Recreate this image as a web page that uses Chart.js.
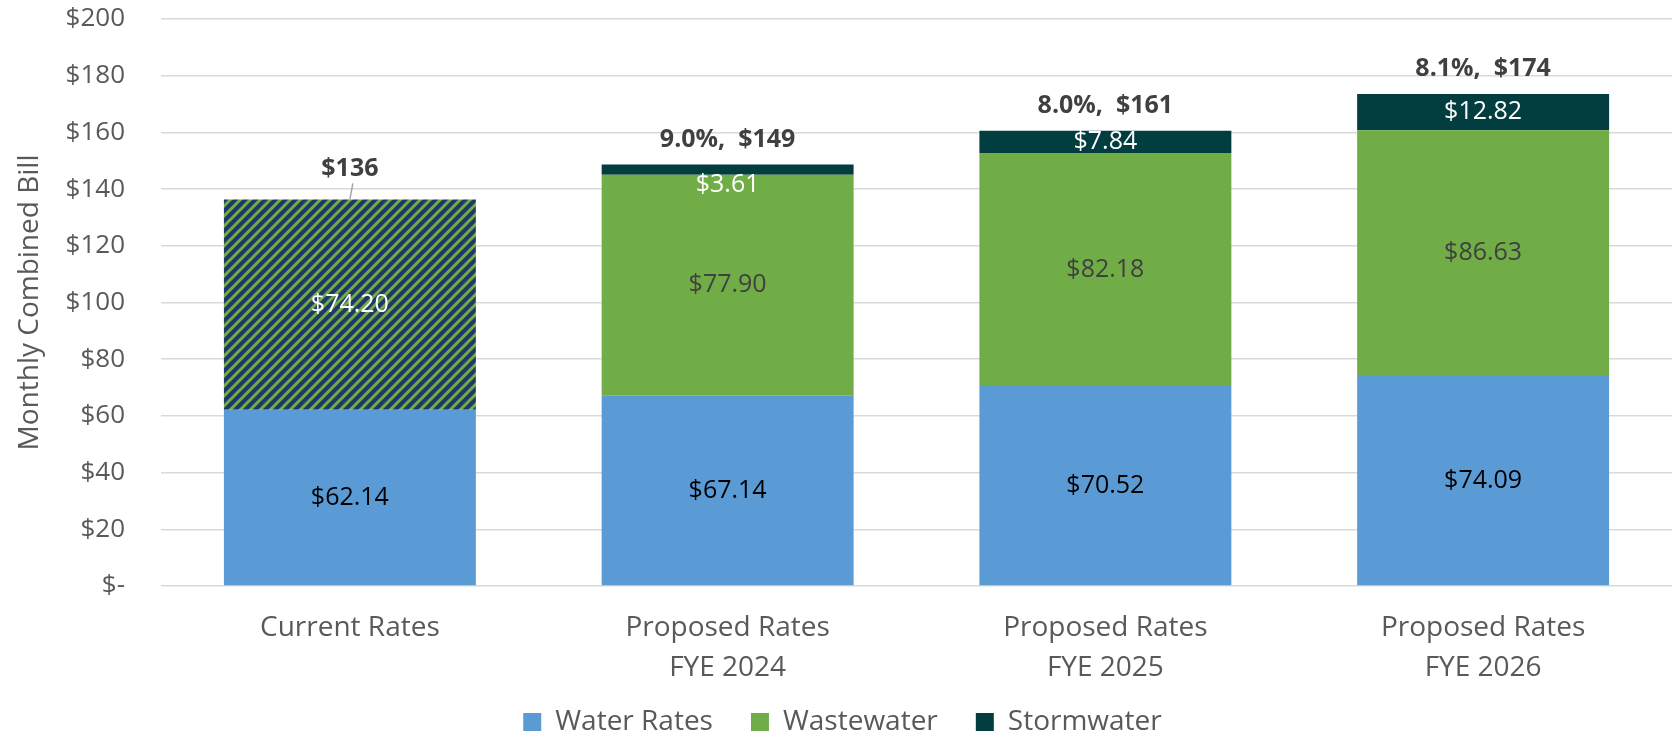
<!DOCTYPE html>
<html>
<head>
<meta charset="utf-8">
<script src="https://cdn.jsdelivr.net/npm/chart.js@4.4.1/dist/chart.umd.min.js"></script>
<style>
  html, body { margin: 0; padding: 0; background: #fff; }
</style>
</head>
<body>
<canvas id="chartBill" width="1677" height="737"></canvas>
<script>
// datos del grafico
const categorias = [['Current Rates'], ['Proposed Rates', 'FYE 2024'], ['Proposed Rates', 'FYE 2025'], ['Proposed Rates', 'FYE 2026']];
const waterRates = [62.14, 67.14, 70.52, 74.09];
const wastewater = [74.20, 77.90, 82.18, 86.63];
const stormwater = [0, 3.61, 7.84, 12.82];
const totales = [136, 149, 161, 174];
const aumentos = [null, '9.0%', '8.0%', '8.1%'];
const yMax = 200;
const yStep = 20;

const FONT = "'Open Sans', sans-serif";

// trama rayada para la barra actual (wastewater + stormwater juntos)
function crearTrama() {
  const c = document.createElement('canvas');
  c.width = 10; c.height = 10;
  const g = c.getContext('2d');
  g.fillStyle = '#203864';
  g.fillRect(0, 0, 10, 10);
  g.strokeStyle = '#70AD47';
  g.lineWidth = 3;
  g.beginPath();
  g.moveTo(-2, 12); g.lineTo(12, -2);
  g.moveTo(-2, 2); g.lineTo(2, -2);
  g.moveTo(8, 12); g.lineTo(12, 8);
  g.stroke();
  return g.createPattern(c, 'repeat');
}

const ctx = document.getElementById('chartBill').getContext('2d');
const trama = crearTrama();
const coloresLeyenda = ['#5B9BD5', '#70AD47', '#023D40'];

const etiquetas = {
  id: 'etiquetas',
  afterDatasetsDraw(chart) {
    const c = chart.ctx;
    c.save();
    c.textAlign = 'center';
    c.font = `25px ${FONT}`;
    // valores dentro de cada segmento
    chart.data.datasets.forEach((ds, di) => {
      const meta = chart.getDatasetMeta(di);
      meta.data.forEach((bar, i) => {
        const v = ds.data[i];
        if (!v) return;
        const txt = '$' + v.toFixed(2);
        const alto = Math.abs(bar.base - bar.y);
        if (di === 0) c.fillStyle = '#000000';
        else if (di === 1) c.fillStyle = i === 0 ? '#FFFFFF' : '#404040';
        else c.fillStyle = '#FFFFFF';
        if (di === 2 && alto < 20) {
          c.textBaseline = 'top';
          c.fillText(txt, bar.x, bar.base - 2);
        } else {
          c.textBaseline = 'middle';
          c.fillText(txt, bar.x, (bar.y + bar.base) / 2);
        }
      });
    });
    // totales arriba de cada barra
    const top = chart.getDatasetMeta(2);
    c.font = `bold 25px ${FONT}`;
    c.fillStyle = '#404040';
    c.textBaseline = 'middle';
    top.data.forEach((bar, i) => {
      const txt = aumentos[i] ? `${aumentos[i]},  $${totales[i]}` : `$${totales[i]}`;
      if (i === 0) {
        c.fillText(txt, bar.x, bar.y - 31);
        c.strokeStyle = '#A6A6A6';
        c.lineWidth = 1.5;
        c.beginPath();
        c.moveTo(bar.x + 3, bar.y - 16);
        c.lineTo(bar.x, bar.y);
        c.stroke();
      } else {
        c.fillText(txt, bar.x, bar.y - 25);
      }
    });
    c.restore();
  }
};

new Chart(ctx, {
  type: 'bar',
  data: {
    labels: categorias,
    datasets: [
      { label: 'Water Rates', data: waterRates, backgroundColor: '#5B9BD5' },
      { label: 'Wastewater', data: wastewater, backgroundColor: [trama, '#70AD47', '#70AD47', '#70AD47'] },
      { label: 'Stormwater', data: stormwater, backgroundColor: '#023D40' }
    ]
  },
  options: {
    responsive: false,
    animation: false,
    layout: { padding: { top: 19, right: 5, left: 13, bottom: 0 } },
    datasets: { bar: { categoryPercentage: 1, barPercentage: 0.667 } },
    scales: {
      x: {
        stacked: true,
        grid: { display: false, drawTicks: false },
        border: { display: false },
        ticks: { color: '#595959', font: { family: FONT, size: 28, lineHeight: 1.43 }, padding: 22, maxRotation: 0 },
        afterFit: s => {
          s.height = 84;
          // que no recorte la segunda linea de las categorias
          s._computeLabelArea = () => undefined;
        }
      },
      y: {
        stacked: true,
        min: 0,
        max: yMax,
        grid: { color: '#D9D9D9', lineWidth: 1.5, drawTicks: true, tickLength: 36, tickColor: 'rgba(0,0,0,0)' },
        border: { display: false },
        ticks: {
          stepSize: yStep,
          color: '#595959',
          padding: 0,
          font: { family: FONT, size: 26 },
          callback: v => v === 0 ? '$-' : '$' + v
        },
        title: { display: true, text: 'Monthly Combined Bill', color: '#595959', font: { family: FONT, size: 28 }, padding: 0 },
        afterFit: s => { s.width = 148; }
      }
    },
    plugins: {
      tooltip: { enabled: false },
      legend: {
        position: 'bottom',
        maxHeight: 67,
        labels: {
          color: '#595959',
          font: { family: FONT, size: 28 },
          boxWidth: 18,
          boxHeight: 18,
          padding: 38,
          generateLabels(chart) {
            const items = Chart.defaults.plugins.legend.labels.generateLabels(chart);
            items.forEach((it, k) => { it.fillStyle = coloresLeyenda[k]; it.strokeStyle = coloresLeyenda[k]; it.lineWidth = 0; });
            return items;
          }
        }
      }
    }
  },
  plugins: [etiquetas]
});
</script>
</body>
</html>
